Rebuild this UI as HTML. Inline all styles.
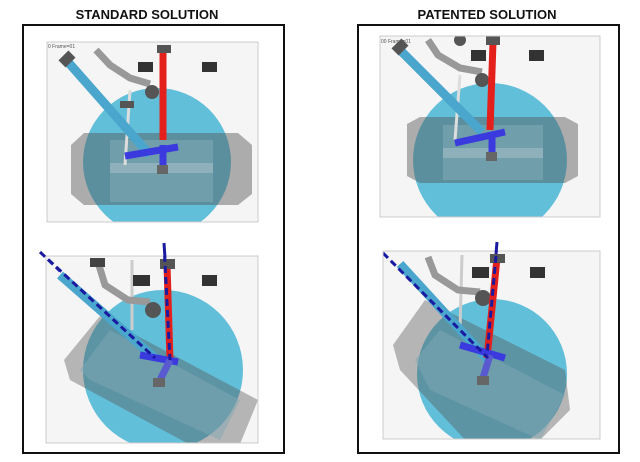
<!DOCTYPE html>
<html><head><meta charset="utf-8"><style>
body{margin:0;background:#fff;width:640px;height:457px;overflow:hidden}
</style></head><body>
<svg width="640" height="457" viewBox="0 0 640 457" xmlns="http://www.w3.org/2000/svg" font-family="Liberation Sans, sans-serif">
<defs>
<clipPath id="c1"><rect x="47" y="42" width="211" height="180"/></clipPath>
<clipPath id="c2"><rect x="46" y="256" width="212" height="187"/></clipPath>
<clipPath id="c3"><rect x="380" y="36" width="220" height="181"/></clipPath>
<clipPath id="c4"><rect x="383" y="251" width="217" height="188"/></clipPath>
</defs>
<text x="147" y="19" text-anchor="middle" font-size="13" font-weight="bold" fill="#111">STANDARD SOLUTION</text>
<text x="487" y="19" text-anchor="middle" font-size="13" font-weight="bold" fill="#111">PATENTED SOLUTION</text>
<rect x="23" y="25" width="261" height="428" fill="none" stroke="#111" stroke-width="2"/>
<rect x="358" y="25" width="261" height="428" fill="none" stroke="#111" stroke-width="2"/>

<!-- Panel 1 -->
<g clip-path="url(#c1)">
<rect x="47" y="42" width="211" height="180" fill="#f5f5f5"/>
<circle cx="157" cy="162" r="74" fill="#62bfd9"/>
<polygon points="71,145 84,133 238,133 252,145 252,194 238,205 84,205 71,194" fill="#555" opacity="0.45"/>
<rect x="110" y="140" width="103" height="62" fill="#7fa8b4" opacity="0.6"/>
<rect x="110" y="163" width="103" height="10" fill="#9bb8c0" opacity="0.7"/>
<line x1="130" y1="90" x2="125" y2="165" stroke="#ddd" stroke-width="3"/>
<path d="M96,50 L110,65 L130,78 L150,84" stroke="#999" stroke-width="7" fill="none"/>
<rect x="138" y="62" width="15" height="10" fill="#333"/>
<rect x="202" y="62" width="15" height="10" fill="#333"/>
<circle cx="152" cy="92" r="7" fill="#555"/>
<rect x="120" y="101" width="14" height="7" fill="#555"/>
<line x1="68" y1="62" x2="150" y2="155" stroke="#4aa6cc" stroke-width="9"/>
<rect x="60" y="54" width="14" height="10" fill="#555" transform="rotate(-45 67 59)"/>
<line x1="163" y1="52" x2="163" y2="140" stroke="#e3201c" stroke-width="7"/>
<rect x="157" y="45" width="14" height="8" fill="#555"/>
<line x1="125" y1="156" x2="178" y2="147" stroke="#3a3adf" stroke-width="7"/>
<line x1="163" y1="145" x2="163" y2="168" stroke="#3a3adf" stroke-width="7"/>
<rect x="157" y="165" width="11" height="9" fill="#666"/>
<text x="48" y="48" font-size="5" fill="#555">0 Frame=01</text>
</g>
<rect x="47" y="42" width="211" height="180" fill="none" stroke="#ccc"/>

<!-- Panel 2 -->
<g clip-path="url(#c2)">
<rect x="46" y="256" width="212" height="187" fill="#f5f5f5"/>
<circle cx="163" cy="370" r="80" fill="#62bfd9"/>
<polygon points="64,360 100,316 258,400 240,444 196,448 70,380" fill="#555" opacity="0.4"/>
<polygon points="80,370 110,330 240,400 220,440 90,380" fill="#7fa8b4" opacity="0.5"/>
<line x1="132" y1="260" x2="132" y2="330" stroke="#ccc" stroke-width="3"/>
<path d="M98,262 L105,285 L128,300 L150,302" stroke="#999" stroke-width="7" fill="none"/>
<rect x="90" y="258" width="15" height="9" fill="#444"/>
<rect x="133" y="275" width="17" height="11" fill="#333"/>
<rect x="202" y="275" width="15" height="11" fill="#333"/>
<circle cx="153" cy="310" r="8" fill="#555"/>
<line x1="60" y1="275" x2="155" y2="358" stroke="#4aa6cc" stroke-width="9"/>
<line x1="167" y1="265" x2="170" y2="360" stroke="#e3201c" stroke-width="7"/>
<rect x="160" y="259" width="15" height="10" fill="#555"/>
<line x1="140" y1="355" x2="178" y2="362" stroke="#3a3adf" stroke-width="7"/>
<line x1="170" y1="360" x2="160" y2="380" stroke="#5a5ad0" stroke-width="7"/>
<rect x="153" y="378" width="12" height="9" fill="#666"/>
<line x1="40" y1="252" x2="155" y2="358" stroke="#1a1aa0" stroke-width="3" stroke-dasharray="7,4"/>
<line x1="164" y1="244" x2="170" y2="360" stroke="#1a1aa0" stroke-width="3" stroke-dasharray="7,4"/>
</g>
<rect x="46" y="256" width="212" height="187" fill="none" stroke="#ccc"/>
<line x1="40" y1="252" x2="60" y2="271" stroke="#1a1aa0" stroke-width="3" stroke-dasharray="7,4"/>
<line x1="164" y1="243" x2="165" y2="258" stroke="#1a1aa0" stroke-width="3"/>

<!-- Panel 3 -->
<g clip-path="url(#c3)">
<rect x="380" y="36" width="220" height="181" fill="#f5f5f5"/>
<circle cx="490" cy="160" r="77" fill="#62bfd9"/>
<polygon points="407,124 420,117 565,117 578,124 578,176 565,183 420,183 407,176" fill="#555" opacity="0.45"/>
<rect x="443" y="125" width="100" height="55" fill="#7fa8b4" opacity="0.6"/>
<rect x="443" y="148" width="100" height="10" fill="#9bb8c0" opacity="0.7"/>
<line x1="460" y1="75" x2="455" y2="140" stroke="#ddd" stroke-width="3"/>
<path d="M428,40 L438,55 L460,68 L482,72" stroke="#999" stroke-width="7" fill="none"/>
<rect x="471" y="50" width="15" height="11" fill="#333"/>
<rect x="529" y="50" width="15" height="11" fill="#333"/>
<circle cx="482" cy="80" r="7" fill="#555"/>
<circle cx="460" cy="40" r="6" fill="#555"/>
<line x1="400" y1="50" x2="482" y2="132" stroke="#4aa6cc" stroke-width="9"/>
<rect x="393" y="42" width="14" height="10" fill="#555" transform="rotate(-45 400 47)"/>
<line x1="493" y1="42" x2="490" y2="130" stroke="#e3201c" stroke-width="7"/>
<rect x="486" y="36" width="14" height="9" fill="#555"/>
<line x1="455" y1="143" x2="505" y2="132" stroke="#3a3adf" stroke-width="7"/>
<line x1="492" y1="132" x2="492" y2="155" stroke="#3a3adf" stroke-width="7"/>
<rect x="486" y="152" width="11" height="9" fill="#666"/>
<text x="381" y="43" font-size="5" fill="#555">00 Frame=01</text>
</g>
<rect x="380" y="36" width="220" height="181" fill="none" stroke="#ccc"/>

<!-- Panel 4 -->
<g clip-path="url(#c4)">
<rect x="383" y="251" width="217" height="188" fill="#f5f5f5"/>
<circle cx="492" cy="374" r="75" fill="#62bfd9"/>
<polygon points="393,345 425,300 565,370 570,410 540,440 470,445 400,370" fill="#555" opacity="0.4"/>
<polygon points="415,360 440,330 565,395 540,440 430,390" fill="#7fa8b4" opacity="0.5"/>
<line x1="462" y1="255" x2="460" y2="330" stroke="#ccc" stroke-width="3"/>
<path d="M428,257 L435,275 L458,290 L480,292" stroke="#999" stroke-width="7" fill="none"/>
<rect x="472" y="267" width="17" height="11" fill="#333"/>
<rect x="530" y="267" width="15" height="11" fill="#333"/>
<circle cx="483" cy="298" r="8" fill="#555"/>
<line x1="400" y1="264" x2="488" y2="360" stroke="#4aa6cc" stroke-width="9"/>
<line x1="497" y1="258" x2="487" y2="358" stroke="#e3201c" stroke-width="7"/>
<rect x="490" y="254" width="15" height="9" fill="#555"/>
<line x1="460" y1="345" x2="505" y2="358" stroke="#3a3adf" stroke-width="7"/>
<line x1="490" y1="355" x2="483" y2="378" stroke="#5a5ad0" stroke-width="7"/>
<rect x="477" y="376" width="12" height="9" fill="#666"/>
<line x1="383" y1="253" x2="488" y2="358" stroke="#1a1aa0" stroke-width="3" stroke-dasharray="7,4"/>
<line x1="497" y1="245" x2="487" y2="355" stroke="#1a1aa0" stroke-width="3" stroke-dasharray="7,4"/>
</g>
<rect x="383" y="251" width="217" height="188" fill="none" stroke="#ccc"/>
<line x1="497" y1="242" x2="496" y2="254" stroke="#1a1aa0" stroke-width="3"/>
</svg>
</body></html>
